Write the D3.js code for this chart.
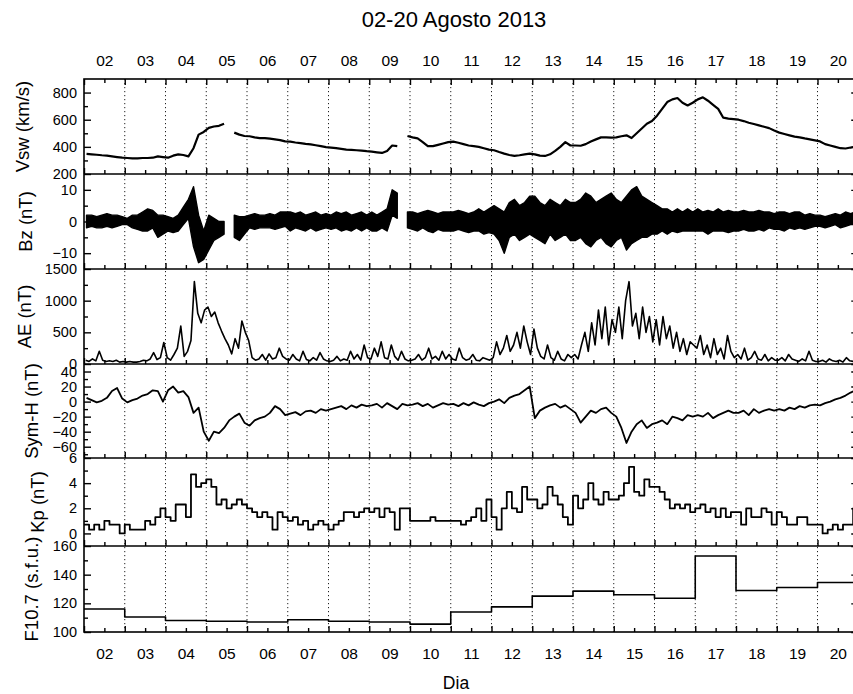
<!DOCTYPE html>
<html>
<head>
<meta charset="utf-8">
<script src="https://cdn.jsdelivr.net/npm/d3@7"></script>
<style>
  body { margin: 0; background: #fff; }
  svg { display: block; font-family: "Liberation Sans", Arial, Helvetica, sans-serif; }
</style>
</head>
<body>
<svg id="chart" width="853" height="694"></svg>
<script>
// ---- Period: 02 Aug 2013 00:00 UT to 21 Aug 2013 00:00 UT ----
const startMs = Date.UTC(2013, 7, 2);
const endMs = Date.UTC(2013, 7, 21);
const dayLabels = ["02","03","04","05","06","07","08","09","10","11","12","13","14","15","16","17","18","19","20"];

// Solar wind speed (km/s), 3-hour means, one row per day
const vswValues = [
  348,345,342,338,335,330,325,320,
  318,315,315,318,318,320,330,325,
  320,335,345,340,330,390,490,510,
  540,550,555,570,null,505,490,480,
  478,470,465,465,460,455,450,440,
  438,432,428,422,418,412,405,398,
  395,390,385,380,378,375,372,368,
  365,360,355,370,410,405,null,480,
  470,462,435,405,405,415,425,435,
  438,430,420,410,405,400,390,380,
  375,362,350,340,333,338,345,350,
  345,335,333,345,370,400,435,410,
  410,408,420,440,455,470,470,468,
  470,478,485,465,500,535,570,590,
  630,680,730,750,760,725,705,725,
  750,765,740,710,680,615,608,605,
  600,590,578,568,558,548,538,520,
  505,495,485,475,470,462,455,448,
  440,420,410,400,390,388,395,400
];

// IMF Bz (nT), 3-hour maximum and minimum
const bzHigh = [
  2,2,1.5,2,2.5,2,2,1.5,
  1,2,2,3,4,3.5,2,2,
  1.5,1,2,4.5,7,11,2,-3,
  2,1,0,0,null,2,1.5,1.5,
  2,2.5,2,2,2.5,2,3,3,
  3,2.5,3,2,2.5,3,2,2.5,
  2,3,2.5,3,2,2.5,3,2,
  3,2,3,4,10,9,null,3,
  3,2.5,3,3.5,3,2.5,3,3,
  3,3.5,3,2.5,3,4,3,4,
  5,4,3,6,7,5,6,8,
  8,6,5,7,6,5,7,6,
  6,7,9,8,6,7,8,9,
  7,6,8,10,11,8,7,6,
  5,4,4,3,4,3,4,3,
  4,3,3.5,3,4,3,3.5,3,
  3,3.5,3,3,3.5,3,3,2.5,
  3,3,2.5,3,3,2,2.5,2,
  2,1.5,2,2.5,2,3,2.5,3
];
const bzLow = [
  -2,-1.5,-2,-2,-1.5,-2,-1.5,-1,
  -1,-2,-2.5,-3,-3,-2,-5,-4,
  -3,-3.5,-3,-1,1,-8,-13,-12,
  -9,-6,-5,-4,null,-5,-6,-4,
  -2,-2.5,-2,-2,-2,-2.5,-2,-1.5,
  -3,-2,-2.5,-3,-2,-3,-2.5,-2,
  -2.5,-2,-3,-2.5,-3,-2,-3,-2,
  -3,-3,-2,-3,2,1,null,-2,
  -2.5,-3,-2,-3,-3.5,-2.5,-3,-3,
  -3,-2.5,-3,-3.5,-3,-3,-4,-3.5,
  -4,-6,-10,-5,-4,-6,-5,-4,
  -5,-6,-7,-4,-6,-5,-4,-6,
  -6,-5,-7,-8,-6,-5,-7,-8,
  -6,-5,-9,-7,-6,-5,-5,-4,
  -4,-3,-4,-3,-3.5,-3,-3,-3,
  -3,-3,-4,-3,-3,-3,-3.5,-3,
  -3,-2.5,-3,-3,-2.5,-3,-2,-2.5,
  -2.5,-3,-2,-2.5,-2,-2.5,-2,-1.5,
  -1.5,-2,-1.5,-1,-2,-1.5,-1,-1
];

// Auroral electrojet index AE (nT), 2-hour values
const aeValues = [
  60,40,80,50,200,60,40,50,40,60,30,40,
  30,40,30,30,40,60,50,80,180,70,100,340,
  100,60,150,250,600,120,200,370,1300,800,650,850,
  900,750,820,650,520,400,300,160,400,250,680,500,
  370,100,60,80,150,60,160,80,100,250,120,80,
  60,150,80,50,200,70,50,100,60,180,80,50,
  40,60,120,50,80,60,200,80,150,60,300,100,
  80,250,120,350,100,80,300,120,60,200,80,50,
  60,80,150,60,100,250,80,120,60,200,80,150,
  80,60,250,100,60,80,150,60,50,100,80,60,
  100,350,150,250,450,200,300,500,250,600,350,150,
  550,250,120,80,300,100,60,200,80,50,150,100,
  150,80,300,500,200,650,300,850,400,900,300,700,
  500,900,400,1000,1300,600,800,400,900,500,750,350,
  700,300,750,400,600,250,500,200,400,150,350,300,
  250,450,150,300,100,400,150,250,80,450,200,100,
  150,80,250,60,100,200,80,60,150,50,100,60,
  60,100,50,150,80,60,40,80,50,200,60,40,
  40,60,30,80,50,40,60,30,100,50,40,60
];

// Sym-H index (nT), 3-hour values
const symhValues = [
  5,2,-1,1,5,14,18,4,
  -1,2,4,8,10,15,14,0,
  15,20,12,14,6,-15,-8,-40,
  -52,-40,-42,-35,-25,-20,-16,-28,
  -32,-25,-22,-20,-15,-6,-10,-18,
  -16,-14,-18,-13,-12,-15,-10,-12,
  -10,-8,-6,-10,-5,-8,-4,-6,
  -5,-3,-8,-2,-6,-10,-3,-5,
  -4,-2,-6,-3,-8,-5,-2,-4,
  -3,-6,-2,-5,-1,-4,-6,-2,
  0,3,-2,5,8,10,15,20,
  -22,-12,-8,-5,-3,-8,-5,-10,
  -15,-28,-20,-12,-15,-10,-8,-15,
  -20,-35,-55,-40,-30,-25,-35,-30,
  -28,-25,-30,-20,-22,-25,-18,-20,
  -18,-20,-15,-22,-18,-15,-12,-15,
  -15,-12,-18,-10,-15,-12,-10,-12,
  -10,-12,-8,-10,-6,-8,-5,-4,
  -5,-2,0,3,5,8,12,15
];

// Planetary Kp index, 3-hour values
const kpValues = [
  0.7,0.3,0.7,0.3,1.0,0.7,0.7,0.0,
  0.7,0.3,0.3,0.3,1.0,0.7,1.3,2.0,
  1.3,1.0,2.3,2.3,1.3,4.7,3.7,4.0,
  4.3,3.7,2.3,2.7,2.0,2.3,2.7,2.3,
  2.0,1.7,1.3,1.7,1.3,0.3,1.7,1.3,
  1.0,1.3,0.7,1.0,0.3,0.7,1.0,0.7,
  0.3,0.7,1.0,1.7,1.7,1.3,1.7,2.0,
  1.7,2.0,1.3,2.0,1.7,0.3,2.0,2.0,
  1.0,1.0,1.0,1.0,1.3,1.0,1.0,1.0,
  1.0,1.0,0.7,1.0,1.3,2.0,1.0,2.7,
  1.3,0.3,2.0,3.3,2.0,1.7,3.7,2.7,
  2.7,2.0,2.3,3.7,3.0,2.3,1.3,0.7,
  3.0,2.0,2.7,4.0,2.7,2.3,3.3,2.7,
  2.7,3.0,4.0,5.3,3.3,3.0,4.3,3.7,
  3.7,3.3,2.7,2.0,2.3,2.0,2.3,1.7,
  2.0,2.3,1.7,2.0,1.3,2.0,1.3,1.7,
  1.7,0.7,2.0,1.3,1.3,2.0,1.7,0.7,
  1.7,1.3,0.7,0.7,1.3,1.3,0.7,0.7,
  0.7,0.0,0.3,0.7,0.3,0.7,0.7,2.0
];

// Daily F10.7 solar radio flux (s.f.u.)
const f107Values = [116,110.5,108,107.5,107,108.5,107.5,107,105.5,114,117.5,125,128.5,126,123.5,153,129,131,134.5];

// Y-axis tick values (labelled and minor) for each panel
const vswTicks = [200,400,600,800],        vswMinor = [300,500,700];
const bzTicks = [-10,0,10],                bzMinor = [-5,5];
const aeTicks = [0,500,1000,1500],         aeMinor = [250,750,1250];
const symhTicks = [-60,-40,-20,0,20,40],   symhMinor = [-70,-50,-30,-10,10,30];
const kpTicks = [0,2,4,6],                 kpMinor = [1,3,5];
const f107Ticks = [100,120,140,160],       f107Minor = [110,130,150];

// ---- Layout ----
const plotLeft = 84, plotRight = 858.25, plotTop = 79, plotBottom = 632;
const svg = d3.select("#chart");
const HOUR = 3600e3;
const FONT = '"Liberation Sans", Arial, sans-serif';

const x = d3.scaleUtc().domain([new Date(startMs), new Date(endMs)]).range([plotLeft, plotRight]);
const dayStarts = d3.range(0, 20).map(i => new Date(startMs + i * 24 * HOUR));
const noons = d3.range(0, 19).map(i => new Date(startMs + (i + 0.5) * 24 * HOUR));

const panels = [
  { id: "vsw",  label: "Vsw (km/s)",     y0: 79,  y1: 174, domain: [200, 900], ticks: vswTicks,  minor: vswMinor,  lx: 22.5 },
  { id: "bz",   label: "Bz (nT)",        y0: 174, y1: 269, domain: [-15, 15],  ticks: bzTicks,   minor: bzMinor,   lx: 25.5 },
  { id: "ae",   label: "AE (nT)",        y0: 269, y1: 364, domain: [0, 1500],  ticks: aeTicks,   minor: aeMinor,   lx: 24.5 },
  { id: "symh", label: "Sym-H (nT)",     y0: 364, y1: 458, domain: [-75, 50],  ticks: symhTicks, minor: symhMinor, lx: 31.5 },
  { id: "kp",   label: "Kp (nT)",        y0: 458, y1: 546, domain: [-1, 6],    ticks: kpTicks,   minor: kpMinor,   lx: 37.5 },
  { id: "f107", label: "F10.7 (s.f.u.)", y0: 546, y1: 632, domain: [100, 160], ticks: f107Ticks, minor: f107Minor, lx: 31.5 }
];
panels.forEach(p => { p.y = d3.scaleLinear().domain(p.domain).range([p.y1, p.y0]); });
const P = Object.fromEntries(panels.map(p => [p.id, p]));

// clip paths
const defs = svg.append("defs");
panels.forEach(p => {
  defs.append("clipPath").attr("id", "clip-" + p.id)
    .append("rect").attr("x", plotLeft).attr("y", p.y0)
    .attr("width", plotRight - plotLeft).attr("height", p.y1 - p.y0);
});

// dotted day separators
svg.append("g").selectAll("line").data(dayStarts.slice(1, 19)).join("line")
  .attr("x1", d => x(d)).attr("x2", d => x(d)).attr("y1", plotTop).attr("y2", plotBottom)
  .attr("stroke", "#222").attr("stroke-width", 1).attr("stroke-dasharray", "1.2,2.8");

// ---- Data marks ----
const at = (values, stepH) => values.map((v, i) => ({ t: new Date(startMs + (i + 0.5) * stepH * HOUR), v }));

function drawLine(p, pts, width, curve) {
  const line = d3.line().defined(d => d.v != null).x(d => x(d.t)).y(d => p.y(d.v));
  if (curve) line.curve(curve);
  svg.append("path").datum(pts).attr("clip-path", `url(#clip-${p.id})`)
    .attr("d", line).attr("fill", "none").attr("stroke", "#000")
    .attr("stroke-width", width).attr("stroke-linejoin", "round");
}

drawLine(P.vsw, at(vswValues, 3), 2.2);

// Bz as the band between 3-hour extremes
const bzPts = bzHigh.map((hi, i) => ({ t: new Date(startMs + (i + 0.5) * 3 * HOUR), hi, lo: bzLow[i] }));
const bzArea = d3.area().defined(d => d.hi != null)
  .x(d => x(d.t)).y0(d => P.bz.y(d.lo)).y1(d => P.bz.y(d.hi));
svg.append("path").datum(bzPts).attr("clip-path", "url(#clip-bz)")
  .attr("d", bzArea).attr("fill", "#000").attr("stroke", "#000").attr("stroke-width", 1.4)
  .attr("stroke-linejoin", "round");

drawLine(P.ae, at(aeValues, 2), 1.6);
drawLine(P.symh, at(symhValues, 3), 1.8);

const kpPts = kpValues.map((v, i) => ({ t: new Date(startMs + i * 3 * HOUR), v }));
kpPts.push({ t: new Date(endMs), v: kpValues[kpValues.length - 1] });
drawLine(P.kp, kpPts, 1.8, d3.curveStepAfter);

const fPts = f107Values.map((v, i) => ({ t: new Date(startMs + i * 24 * HOUR), v }));
fPts.push({ t: new Date(endMs), v: f107Values[f107Values.length - 1] });
drawLine(P.f107, fPts, 1.6, d3.curveStepAfter);

// ---- Axes ----
function clean(g) {
  g.select(".domain").remove();
  g.selectAll(".tick line").attr("stroke", "#000").attr("stroke-width", 1.4);
}

panels.forEach(p => {
  // left y ticks with labels
  svg.append("g").attr("transform", `translate(${plotLeft},0)`)
    .call(d3.axisLeft(p.y).tickValues(p.ticks).tickFormat(d3.format("d"))
      .tickSizeInner(-7).tickSizeOuter(0).tickPadding(7))
    .call(clean)
    .call(g => g.selectAll("text").attr("font-size", 14.5).attr("fill", "#000").attr("font-family", FONT));
  svg.append("g").attr("transform", `translate(${plotLeft},0)`)
    .call(d3.axisLeft(p.y).tickValues(p.minor).tickSize(-4).tickFormat(""))
    .call(clean);
  // mirrored right y ticks
  svg.append("g").attr("transform", `translate(${plotRight},0)`)
    .call(d3.axisRight(p.y).tickValues(p.ticks).tickSize(-7).tickFormat(""))
    .call(clean);
  svg.append("g").attr("transform", `translate(${plotRight},0)`)
    .call(d3.axisRight(p.y).tickValues(p.minor).tickSize(-4).tickFormat(""))
    .call(clean);
  // time ticks along the bottom of each panel
  svg.append("g").attr("transform", `translate(0,${p.y1})`)
    .call(d3.axisTop(x).tickValues(dayStarts).tickSize(6).tickFormat(""))
    .call(clean);
  svg.append("g").attr("transform", `translate(0,${p.y1})`)
    .call(d3.axisTop(x).tickValues(noons).tickSize(4).tickFormat(""))
    .call(clean);
  // panel title
  svg.append("text")
    .attr("transform", `translate(${p.lx},${(p.y0 + p.y1) / 2}) rotate(-90)`)
    .attr("text-anchor", "middle").attr("dominant-baseline", "central")
    .attr("font-size", 18.5).attr("fill", "#000").text(p.label);
});

// time ticks on the top edge
svg.append("g").attr("transform", `translate(0,${plotTop})`)
  .call(d3.axisBottom(x).tickValues(dayStarts).tickSize(6).tickFormat("")).call(clean);
svg.append("g").attr("transform", `translate(0,${plotTop})`)
  .call(d3.axisBottom(x).tickValues(noons).tickSize(4).tickFormat("")).call(clean);

// day labels above and below
const dayFmt = d => dayLabels[Math.floor((d - startMs) / (24 * HOUR))];
svg.append("g").attr("transform", `translate(0,${plotTop})`)
  .call(d3.axisTop(x).tickValues(noons).tickSize(0).tickPadding(13).tickFormat(dayFmt))
  .call(g => g.select(".domain").remove())
  .call(g => g.selectAll("text").attr("font-size", 15.5).attr("fill", "#000").attr("font-family", FONT));
svg.append("g").attr("transform", `translate(0,${plotBottom})`)
  .call(d3.axisBottom(x).tickValues(noons).tickSize(0).tickPadding(16).tickFormat(dayFmt))
  .call(g => g.select(".domain").remove())
  .call(g => g.selectAll("text").attr("font-size", 15.5).attr("fill", "#000").attr("font-family", FONT));

// frame and panel separators
svg.append("rect").attr("x", plotLeft).attr("y", plotTop)
  .attr("width", plotRight - plotLeft).attr("height", plotBottom - plotTop)
  .attr("fill", "none").attr("stroke", "#000").attr("stroke-width", 1.6);
svg.append("g").selectAll("line").data(panels.slice(0, -1)).join("line")
  .attr("x1", plotLeft).attr("x2", plotRight).attr("y1", d => d.y1).attr("y2", d => d.y1)
  .attr("stroke", "#000").attr("stroke-width", 1.6);

// titles
svg.append("text").attr("x", 454).attr("y", 27).attr("text-anchor", "middle")
  .attr("font-size", 22).attr("fill", "#000").text("02-20 Agosto 2013");
svg.append("text").attr("x", 456).attr("y", 689).attr("text-anchor", "middle")
  .attr("font-size", 17.5).attr("fill", "#000").text("Dia");
</script>
</body>
</html>
